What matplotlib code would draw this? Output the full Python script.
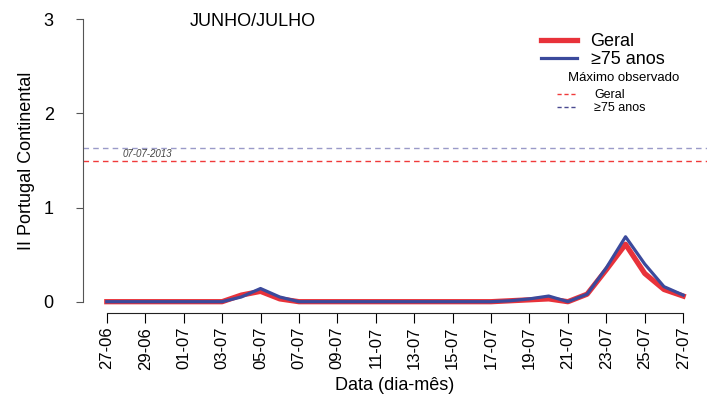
import numpy as np
import matplotlib.pyplot as plt
from matplotlib.lines import Line2D

plt.rcParams['font.family'] = ['Liberation Sans', 'DejaVu Sans']

# daily values 27-06 .. 27-07
geral = [0, 0, 0, 0, 0, 0, 0, 0.07, 0.11, 0.03, 0, 0, 0, 0, 0, 0,
         0, 0, 0, 0, 0, 0.01, 0.02, 0.03, 0, 0.08, 0.34, 0.61, 0.30, 0.13, 0.06]
idosos = [0, 0, 0, 0, 0, 0, 0, 0.05, 0.14, 0.05, 0, 0, 0, 0, 0, 0,
          0, 0, 0, 0, 0, 0.01, 0.03, 0.06, 0, 0.08, 0.36, 0.69, 0.40, 0.16, 0.07]
max_geral = 1.50
max_idosos = 1.63
max_date = "07-07-2013"
tick_labels = ["27-06", "29-06", "01-07", "03-07", "05-07", "07-07", "09-07", "11-07",
               "13-07", "15-07", "17-07", "19-07", "21-07", "23-07", "25-07", "27-07"]

red = '#e8323a'
blue = '#3b4a9c'

days = np.arange(len(geral))

fig = plt.figure(figsize=(7.07, 4.05), dpi=100)
ax = fig.add_axes([0.1174, 0.2272, 0.8826, 0.7528])

ax.axhline(max_idosos, color='#9a9ac8', lw=1.0, ls=(0, (4, 3)))
ax.axhline(max_geral, color='#f03a3a', lw=1.0, ls=(0, (4, 3)))
ax.text(2.1, (max_geral + max_idosos) / 2, max_date, fontsize=7, style='italic',
        color='#444444', ha='center', va='center')

ax.plot(days, geral, color=red, lw=3.8, solid_joinstyle='round')
ax.plot(days, idosos, color=blue, lw=2.3, solid_joinstyle='round')

ax.set_xlim(-1.24, 31.24)
ax.set_ylim(-0.12, 3.12)
for s in ['top', 'right']:
    ax.spines[s].set_visible(False)
ax.spines['left'].set_bounds(0, 3)
ax.spines['bottom'].set_bounds(0, 30)
ax.spines['left'].set_color('#555555')
ax.spines['bottom'].set_color('#222222')

ax.set_yticks([0, 1, 2, 3])
ax.set_yticklabels(['0', '1', '2', '3'], fontsize=13)
ax.set_xticks(days[::2])
ax.set_xticklabels(tick_labels, rotation=90, fontsize=12)
ax.tick_params(axis='y', length=5, color='#555555', pad=16)
ax.tick_params(axis='x', length=7, pad=3)

ax.set_ylabel("II Portugal Continental", fontsize=13, labelpad=6)
ax.set_xlabel("Data (dia-mês)", fontsize=13, labelpad=5)

ax.text(0.171, 0.955, "JUNHO/JULHO", transform=ax.transAxes, fontsize=13,
        ha='left', va='center')

h1 = [Line2D([], [], color=red, lw=3.8), Line2D([], [], color=blue, lw=2.3)]
leg1 = ax.legend(h1, ["Geral", "≥75 anos"], loc='upper left', bbox_to_anchor=(0.72, 0.947),
                 frameon=False, fontsize=13, handlelength=1.95, labelspacing=0.05,
                 handletextpad=0.78, borderpad=0)
ax.add_artist(leg1)

ax.text(0.867, 0.772, "Máximo observado", transform=ax.transAxes, fontsize=9.5,
        ha='center', va='center')
h2 = [Line2D([], [], color='#f03a3a', lw=1, ls=(0, (3, 2))),
      Line2D([], [], color='#4a4a90', lw=1, ls=(0, (3, 2)))]
ax.legend(h2, ["Geral", "≥75 anos"], loc='upper left', bbox_to_anchor=(0.75, 0.755),
          frameon=False, fontsize=9, handlelength=1.6, labelspacing=0.1,
          handletextpad=1.35, borderpad=0)

fig.savefig('out.png', dpi=100)
